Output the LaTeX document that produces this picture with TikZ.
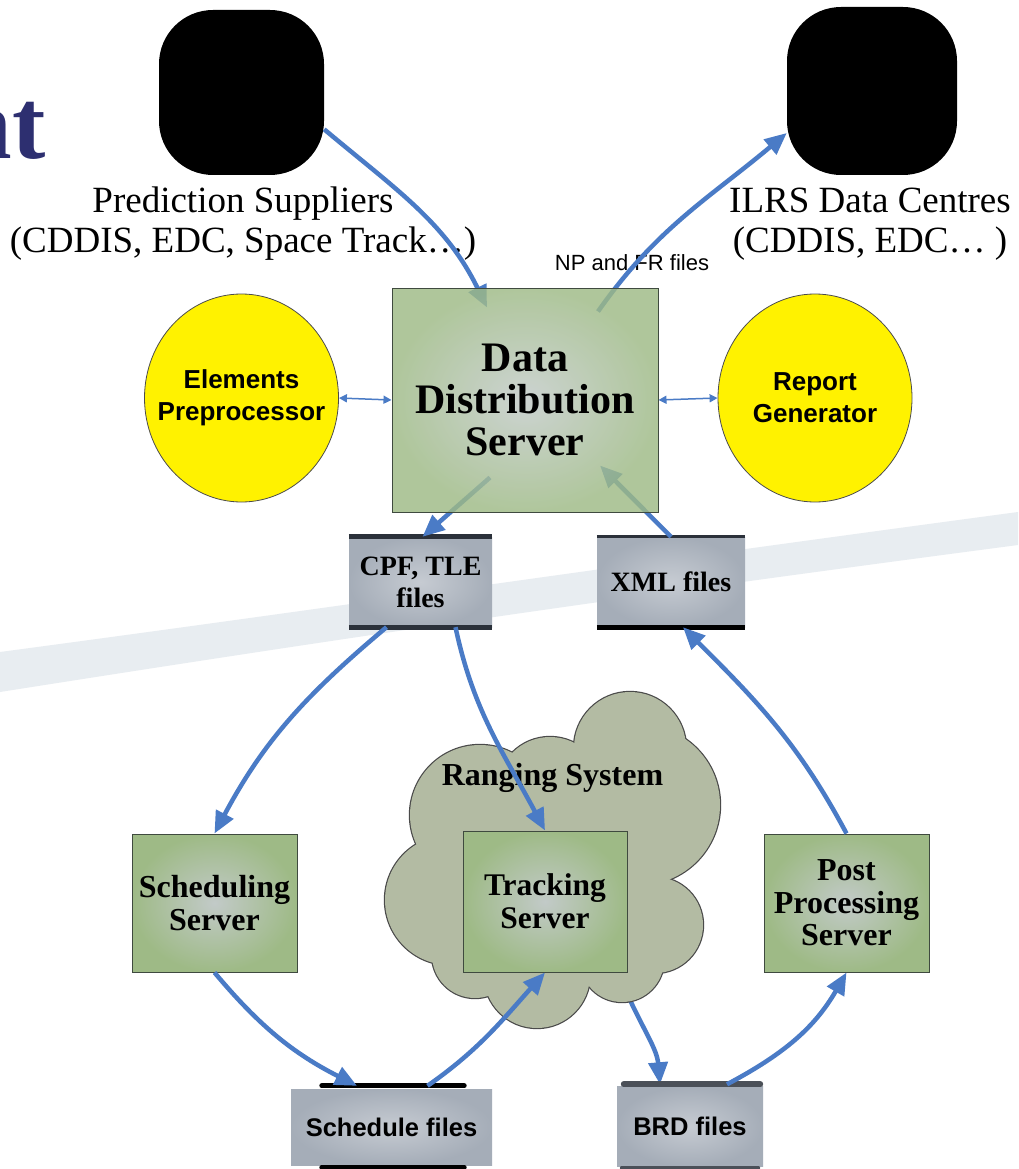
\documentclass[tikz,border=0pt]{standalone}
\usepackage{fontspec}
\setmainfont{Liberation Serif}
\newfontfamily\arialf{Liberation Sans}
\usetikzlibrary{arrows.meta,shapes.geometric}
\newcommand\myfs[2]{\fontsize{#1}{#2}\selectfont}
\definecolor{arrblue}{HTML}{4A7BC6}
\definecolor{titleblue}{HTML}{2D2F70}
\definecolor{gin}{HTML}{C2CAC8}
\definecolor{gout}{HTML}{9EBA86}
\definecolor{gline}{HTML}{3F4A3F}
\definecolor{fin}{HTML}{C6CBD2}
\definecolor{fout}{HTML}{A5ADB8}
\definecolor{cloudfill}{HTML}{B3BBA3}
\definecolor{cloudline}{HTML}{4A4A4A}
\definecolor{swoosh}{HTML}{E8EDF1}
\definecolor{barcol}{HTML}{2B313A}
\pgfdeclarelayer{bg}
\pgfdeclarelayer{behind}
\pgfdeclarelayer{arrowl}
\pgfdeclarelayer{front}
\pgfsetlayers{bg,behind,main,arrowl,front}
\tikzset{
  blob/.style={fill=black, draw=none, rounded corners=54pt, inner sep=0},
  lbl/.style={inner sep=0, align=center, font=\myfs{37}{40}},
  gbox/.style={draw=gline, line width=1pt, inner color=gin, outer color=gout, inner sep=0, align=center, font=\bfseries\myfs{32}{32.5}},
  fbox/.style={draw=none, inner color=fin, outer color=fout, inner sep=0, align=center},
  ell/.style={ellipse, draw=black!70, line width=0.8pt, fill=yellow, inner xsep=-20pt, inner ysep=0pt, minimum width=194pt, minimum height=208pt, align=center, font=\arialf\bfseries\myfs{26}{32}},
  flow/.style={draw=arrblue, line width=4.5pt, -{Triangle[length=22pt,width=19pt]}},
  dbl/.style={draw=arrblue, line width=1.5pt, {Triangle[length=8pt,width=8pt]}-{Triangle[length=8pt,width=8pt]}},
  bar/.style={draw=barcol, line width=5pt},
}
\begin{document}
\begin{tikzpicture}[x=1pt,y=-1pt]
\useasboundingbox (0,0) rectangle (1018,1169);
\begin{pgfonlayer}{bg}
  \fill[white] (0,0) rectangle (1018,1169);
  \fill[swoosh] (0,652) .. controls (330,608) and (600,568) .. (1018,512) -- (1018,545) .. controls (600,600) and (330,640) .. (0,692) -- cycle;
\end{pgfonlayer}

% title fragment
\node[anchor=base east, font=\bfseries\myfs{100}{100}, text=titleblue, inner sep=0] (title) at (46,159) {nt};

% image blobs and labels
\node[blob, minimum width=165pt, minimum height=165pt] (psimg) at (241.5,92.5) {};
\node[blob, minimum width=170pt, minimum height=168pt] (ilrsimg) at (872,91) {};
\node[lbl] (pslab) at (243,224) {Prediction Suppliers\\(CDDIS, EDC, Space Track…)};
\node[lbl] (ilrslab) at (870,224) {ILRS Data Centres\\(CDDIS, EDC… )};
\node[inner sep=0, font=\arialf\myfs{22}{24}, anchor=base] (nplab) at (632,270) {NP and FR files};

% ellipses
\node[ell] (ep) at (241.5,398) {Elements\\Preprocessor};
\node[ell] (rg) at (815,398) {Report\\Generator};

% file boxes
\node[fbox, minimum width=143pt, minimum height=90pt, font=\bfseries\myfs{28}{32}] (cpf) at (420.5,582) {CPF, TLE\\files};
\node[fbox, minimum width=148pt, minimum height=90pt, font=\bfseries\myfs{28}{32}] (xml) at (671,582) {XML files};
\node[fbox, minimum width=201pt, minimum height=76pt, font=\arialf\bfseries\myfs{25.5}{30}] (sf) at (391.5,1127) {Schedule files};
\node[fbox, minimum width=146pt, minimum height=80pt, font=\arialf\bfseries\myfs{25.5}{30}] (brd) at (690,1126.5) {BRD files};
\draw[bar] (cpf.north west) -- (cpf.north east);
\draw[bar] (cpf.south west) -- (cpf.south east);
\draw[bar, line width=3pt] (xml.north west) -- (xml.north east);
\draw[bar, draw=black] (xml.south west) -- (xml.south east);
\draw[bar, draw=black, line cap=round] ([xshift=31pt,yshift=3pt]sf.north west) -- ([xshift=-28pt,yshift=3pt]sf.north east);
\draw[bar, draw=black, line cap=round] ([xshift=31pt,yshift=-2pt]sf.south west) -- ([xshift=-28pt,yshift=-2pt]sf.south east);
\draw[bar, draw=barcol!85, line width=6pt, line cap=round] ([xshift=7pt,yshift=2pt]brd.north west) -- ([xshift=-3pt,yshift=2pt]brd.north east);
\draw[bar, draw=barcol!85, line width=4pt, line cap=round] ([xshift=5pt,yshift=-1pt]brd.south west) -- ([xshift=-5pt,yshift=-1pt]brd.south east);

% ranging system cloud
\coordinate (cloudexit) at (630,1000);
\begin{pgfonlayer}{behind}
  \draw[flow] (cloudexit) to[out=-65,in=95] ([xshift=-30pt,yshift=2pt]brd.north);
  \foreach \cx/\cy/\r in {630/748/56, 640/805/80, 655/925/48, 622/960/42, 537/975/53, 475/955/43, 450/900/65, 480/815/70, 550/790/53, 550/880/110}
    \draw[cloudline, line width=2.4pt] (\cx,\cy) circle[radius=\r pt];
  \foreach \cx/\cy/\r in {630/748/56, 640/805/80, 655/925/48, 622/960/42, 537/975/53, 475/955/43, 450/900/65, 480/815/70, 550/790/53, 550/880/110}
    \fill[cloudfill] (\cx,\cy) circle[radius=\r pt];
\end{pgfonlayer}
\node[inner sep=0, anchor=base, font=\bfseries\myfs{32}{36}] (ranging) at (552.5,785) {Ranging System};

% servers
\node[gbox, minimum width=164pt, minimum height=141pt, font=\bfseries\myfs{31.5}{33}] (trk) at (545,901.5) {Tracking\\Server};
\node[gbox, minimum width=165pt, minimum height=138pt] (sched) at (214.5,903) {Scheduling\\Server};
\node[gbox, minimum width=165pt, minimum height=138pt] (pps) at (846.5,903) {Post\\Processing\\Server};

% data distribution server (semi-transparent, over its arrows)
\begin{pgfonlayer}{front}
\node[gbox, minimum width=266pt, minimum height=224pt, fill opacity=0.82, text opacity=1, font=\bfseries\myfs{42}{42}] (dds) at (525,400) {Data\\Distribution\\Server};
\end{pgfonlayer}

% connectors
\begin{pgfonlayer}{arrowl}
  \draw[flow] (psimg.-24) to[out=-40,in=116] ([xshift=-38pt,yshift=-20pt]dds.north);
  \draw[flow] ([xshift=73pt,yshift=-24pt]dds.north) to[out=55,in=220] ([yshift=-42pt]ilrsimg.west);
  \draw[flow] ([xshift=-35pt,yshift=35pt]dds.south) -- ([xshift=2pt]cpf.north);
  \draw[flow] (xml.north) -- ([xshift=75pt,yshift=47pt]dds.south);
  \draw[flow] ([xshift=-34pt]cpf.south) to[out=220,in=62] (sched.north);
  \draw[flow] ([xshift=35pt]cpf.south) to[out=-78,in=118] (trk.north);
  \draw[flow] (sched.south) to[out=-50,in=153] ([xshift=-34.5pt,yshift=3pt]sf.north);
  \draw[flow] ([xshift=36pt,yshift=3pt]sf.north) to[out=35,in=228] (trk.south);
  \draw[flow] ([xshift=37pt,yshift=2pt]brd.north) to[out=28,in=240] (pps.south);
  \draw[flow] (pps.north) to[out=118,in=-45] ([xshift=12pt]xml.south);
  \draw[dbl] (ep.east) -- (dds.west);
  \draw[dbl] (dds.east) -- (rg.west);
\end{pgfonlayer}
\end{tikzpicture}
\end{document}
